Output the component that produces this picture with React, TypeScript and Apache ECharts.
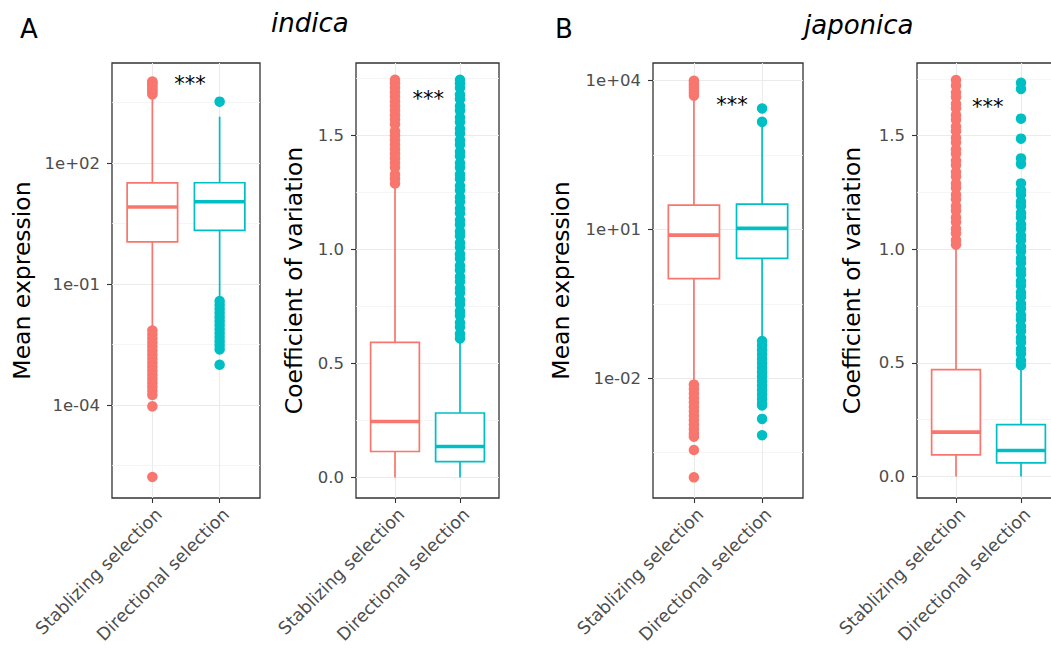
import React, { useEffect, useRef } from "react";
import * as echarts from "echarts";

const FONT = "DejaVu Sans";
const categories = ["Stablizing selection", "Directional selection"];
const colors = ["#F8766D", "#00BFC4"];

// Box statistics: [lower whisker, Q1, median, Q3, upper whisker]
// indica – mean expression (log scale)
const indicaMeanStab = [0.0074, 1.11, 8.13, 32.0, 4790];
const indicaMeanDir = [0.0407, 2.14, 11.0, 32.4, 1410];
const indicaMeanStabOut = [
  5010, 5620, 6310, 7080, 7940, 8910, 10000, 10500,
  7.08e-3, 5.62e-3, 4.47e-3, 3.55e-3, 2.82e-3, 2.24e-3, 1.78e-3, 1.41e-3, 1.12e-3,
  8.91e-4, 7.08e-4, 5.62e-4, 4.47e-4, 3.55e-4, 2.82e-4, 2.24e-4, 1.78e-4, 9.33e-5, 1.66e-6,
];
const indicaMeanDirOut = [
  3310,
  0.038, 0.0302, 0.024, 0.0191, 0.0151, 0.012, 9.55e-3, 7.59e-3, 6.03e-3, 4.79e-3, 3.8e-3,
  3.02e-3, 2.4e-3, 1.0e-3,
];

// indica – coefficient of variation
const indicaCvStab = [0.0, 0.114, 0.246, 0.593, 1.277];
const indicaCvDir = [0.0, 0.07, 0.136, 0.283, 0.605];
const indicaCvStabOut = [
  1.29, 1.31, 1.33, 1.36, 1.38, 1.4, 1.42, 1.44, 1.46, 1.48, 1.5, 1.52, 1.55, 1.57, 1.59,
  1.61, 1.63, 1.65, 1.67, 1.69, 1.71, 1.73, 1.745,
];
const indicaCvDirOut = [
  0.61, 0.63, 0.66, 0.68, 0.71, 0.73, 0.76, 0.78, 0.81, 0.83, 0.86, 0.88, 0.91, 0.93, 0.96,
  0.98, 1.01, 1.03, 1.06, 1.08, 1.11, 1.13, 1.16, 1.18, 1.21, 1.23, 1.26, 1.28, 1.31, 1.33,
  1.36, 1.38, 1.41, 1.43, 1.46, 1.48, 1.51, 1.53, 1.56, 1.58, 1.61, 1.63, 1.66, 1.68, 1.71,
  1.73, 1.745,
];

// japonica – mean expression (log scale)
const japonicaMeanStab = [0.00785, 1.02, 7.67, 30.9, 4680];
const japonicaMeanDir = [0.0589, 2.6, 10.5, 32.4, 1320];
const japonicaMeanStabOut = [
  5010, 5750, 6610, 7590, 8710, 10000,
  7.41e-3, 6.03e-3, 4.9e-3, 3.98e-3, 3.24e-3, 2.63e-3, 2.14e-3, 1.74e-3, 1.41e-3, 1.15e-3,
  9.33e-4, 7.59e-4, 6.61e-4, 3.55e-4, 1.0e-4,
];
const japonicaMeanDirOut = [
  1480, 2750,
  0.0562, 0.0457, 0.0372, 0.0302, 0.0245, 0.02, 0.0162, 0.0132, 0.0107, 8.71e-3, 7.08e-3,
  5.75e-3, 4.68e-3, 3.8e-3, 3.09e-3, 2.82e-3, 1.51e-3, 7.08e-4,
];

// japonica – coefficient of variation
const japonicaCvStab = [0.0, 0.095, 0.195, 0.47, 1.014];
const japonicaCvDir = [0.0, 0.06, 0.114, 0.228, 0.48];
const japonicaCvStabOut = [
  1.02, 1.04, 1.07, 1.09, 1.12, 1.14, 1.17, 1.19, 1.22, 1.24, 1.27, 1.29, 1.32, 1.34, 1.37,
  1.39, 1.42, 1.44, 1.47, 1.49, 1.52, 1.54, 1.57, 1.59, 1.62, 1.64, 1.67, 1.69, 1.72, 1.745,
];
const japonicaCvDirOut = [
  0.49, 0.51, 0.54, 0.56, 0.59, 0.61, 0.64, 0.66, 0.69, 0.71, 0.74, 0.76, 0.79, 0.81, 0.84,
  0.86, 0.89, 0.91, 0.94, 0.96, 0.99, 1.01, 1.04, 1.06, 1.09, 1.11, 1.14, 1.16, 1.19, 1.21,
  1.24, 1.26, 1.29, 1.376, 1.4, 1.487, 1.575, 1.706, 1.733,
];

// Axis ticks
const indicaMeanTicks = [1e-4, 1e-1, 1e2];
const indicaMeanMinor = [3.162e-6, 3.162e-3, 3.162, 3162];
const japonicaMeanTicks = [1e-2, 1e1, 1e4];
const japonicaMeanMinor = [3.162e-4, 0.3162, 316.2];
const cvTicks = [0, 0.5, 1.0, 1.5];
const cvMinor = [0.25, 0.75, 1.25, 1.75];

// significance label positions (x in category units, y in data units)
const sigPos = [
  [1.56, 9230],
  [1.51, 1.662],
  [1.56, 3210],
  [1.49, 1.627],
];

const panels = [
  { left: 112, width: 148, log: true, min: 5.0e-7, max: 30060, ticks: indicaMeanTicks, minor: indicaMeanMinor,
    name: "Mean expression", nameGap: 78, stab: indicaMeanStab, dir: indicaMeanDir,
    stabOut: indicaMeanStabOut, dirOut: indicaMeanDirOut },
  { left: 356, width: 143, log: false, min: -0.09, max: 1.819, ticks: cvTicks, minor: cvMinor,
    name: "Coefficient of variation", nameGap: 50, stab: indicaCvStab, dir: indicaCvDir,
    stabOut: indicaCvStabOut, dirOut: indicaCvDirOut },
  { left: 653, width: 150, log: true, min: 3.83e-5, max: 22750, ticks: japonicaMeanTicks, minor: japonicaMeanMinor,
    name: "Mean expression", nameGap: 80, stab: japonicaMeanStab, dir: japonicaMeanDir,
    stabOut: japonicaMeanStabOut, dirOut: japonicaMeanDirOut },
  { left: 917, width: 143, log: false, min: -0.095, max: 1.82, ticks: cvTicks, minor: cvMinor,
    name: "Coefficient of variation", nameGap: 53, stab: japonicaCvStab, dir: japonicaCvDir,
    stabOut: japonicaCvStabOut, dirOut: japonicaCvDirOut },
];

const fmtLog = (v: number) => {
  const e = Math.round(Math.log10(v));
  return "1e" + (e < 0 ? "-" : "+") + String(Math.abs(e)).padStart(2, "0");
};

function buildOption() {
  const grid: any[] = [];
  const xAxis: any[] = [];
  const yAxis: any[] = [];
  const series: any[] = [];

  panels.forEach((p, i) => {
    grid.push({
      left: p.left, top: 63, width: p.width, height: 435,
      show: true, borderColor: "#333333", borderWidth: 1.3, backgroundColor: "transparent",
    });
    xAxis.push({
      gridIndex: i, type: "value", min: 0.4, max: 2.6, position: "bottom",
      axisLine: { show: false, onZero: false },
      axisTick: { show: true, length: 5, customValues: [1, 2], lineStyle: { color: "#333333", width: 1.1 } },
      axisLabel: {
        customValues: [1, 2],
        formatter: (v: number) => categories[Math.round(v) - 1],
        rotate: 45, align: "right", verticalAlign: "top", margin: 7,
        fontSize: 17.5, color: "#4D4D4D", fontFamily: FONT,
      },
      splitLine: { show: true, lineStyle: { color: "#EBEBEB", width: 1.1 } },
    });
    yAxis.push({
      gridIndex: i, type: p.log ? "log" : "value", logBase: 10, min: p.min, max: p.max, position: "left",
      name: p.name, nameLocation: "middle", nameGap: p.nameGap,
      nameTextStyle: { fontSize: 23.5, color: "#000000", fontFamily: FONT },
      axisLine: { show: false, onZero: false },
      axisTick: { show: true, length: 5, customValues: p.ticks, lineStyle: { color: "#333333", width: 1.1 } },
      axisLabel: {
        customValues: p.ticks,
        formatter: p.log ? fmtLog : (v: number) => v.toFixed(1),
        fontSize: 16.5, color: "#4D4D4D", margin: 12, fontFamily: FONT,
      },
      splitLine: { show: true, lineStyle: { color: "#EBEBEB", width: 1.1 } },
    });
    yAxis.push({
      gridIndex: i, type: p.log ? "log" : "value", logBase: 10, min: p.min, max: p.max, position: "left",
      axisLine: { show: false, onZero: false },
      axisTick: { show: false, customValues: p.minor },
      axisLabel: { show: false },
      splitLine: { show: true, lineStyle: { color: "#F3F3F3", width: 0.8 } },
    });

    series.push({
      type: "custom", xAxisIndex: i, yAxisIndex: 2 * i, z: 3, silent: true,
      data: [[1, ...p.stab], [2, ...p.dir]],
      encode: { x: 0, y: [1, 2, 3, 4, 5] },
      renderItem: (params: any, api: any) => {
        const x = api.value(0);
        const lo = api.value(1), q1 = api.value(2), med = api.value(3), q3 = api.value(4), hi = api.value(5);
        const c = colors[params.dataIndex];
        const tl = api.coord([x - 0.375, q3]);
        const br = api.coord([x + 0.375, q1]);
        const ml = api.coord([x - 0.375, med]);
        const mr = api.coord([x + 0.375, med]);
        const pHi = api.coord([x, hi]);
        const pLo = api.coord([x, lo]);
        const pQ3 = api.coord([x, q3]);
        const pQ1 = api.coord([x, q1]);
        return {
          type: "group",
          children: [
            { type: "line", shape: { x1: pHi[0], y1: pHi[1], x2: pQ3[0], y2: pQ3[1] }, style: { stroke: c, lineWidth: 1.7 } },
            { type: "line", shape: { x1: pQ1[0], y1: pQ1[1], x2: pLo[0], y2: pLo[1] }, style: { stroke: c, lineWidth: 1.7 } },
            { type: "rect", shape: { x: tl[0], y: tl[1], width: br[0] - tl[0], height: br[1] - tl[1] },
              style: { fill: "#ffffff", stroke: c, lineWidth: 1.7 } },
            { type: "line", shape: { x1: ml[0], y1: ml[1], x2: mr[0], y2: mr[1] }, style: { stroke: c, lineWidth: 3.6 } },
          ],
        };
      },
    });
    series.push({
      type: "scatter", xAxisIndex: i, yAxisIndex: 2 * i, z: 4, silent: true,
      symbolSize: 10.5, itemStyle: { color: colors[0], opacity: 1 },
      data: p.stabOut.map((v) => [1, v]),
    });
    series.push({
      type: "scatter", xAxisIndex: i, yAxisIndex: 2 * i, z: 4, silent: true,
      symbolSize: 10.5, itemStyle: { color: colors[1], opacity: 1 },
      data: p.dirOut.map((v) => [2, v]),
    });
    series.push({
      type: "custom", xAxisIndex: i, yAxisIndex: 2 * i, z: 5, silent: true,
      data: [sigPos[i]],
      renderItem: (_params: any, api: any) => {
        const pt = api.coord([api.value(0), api.value(1)]);
        return {
          type: "text", x: pt[0], y: pt[1],
          style: { text: "***", fontSize: 21, fontFamily: FONT, fill: "#000000", align: "center", verticalAlign: "middle" },
        };
      },
    });
  });

  return {
    animation: false,
    backgroundColor: "#ffffff",
    textStyle: { fontFamily: FONT },
    title: [
      { text: "A", left: 20, top: 16, padding: 0, textStyle: { fontSize: 26, fontWeight: "normal", color: "#000", fontFamily: FONT } },
      { text: "indica", left: 271, top: 10, padding: 0, textStyle: { fontSize: 26, fontStyle: "italic", fontWeight: "normal", color: "#000", fontFamily: FONT } },
      { text: "B", left: 555, top: 16, padding: 0, textStyle: { fontSize: 26, fontWeight: "normal", color: "#000", fontFamily: FONT } },
      { text: "japonica", left: 804, top: 12, padding: 0, textStyle: { fontSize: 26, fontStyle: "italic", fontWeight: "normal", color: "#000", fontFamily: FONT } },
    ],
    grid,
    xAxis,
    yAxis,
    series,
  };
}

export default function App() {
  const ref = useRef<HTMLDivElement>(null);
  useEffect(() => {
    if (!ref.current) return;
    const chart = echarts.init(ref.current, null, { renderer: "svg" });
    chart.setOption(buildOption() as any);
    return () => chart.dispose();
  }, []);
  return (
    <div style={{ position: "fixed", left: 0, top: 0, width: 1051, height: 652, overflow: "hidden", background: "#fff" }}>
      <div ref={ref} style={{ width: 1080, height: 652 }} />
    </div>
  );
}
